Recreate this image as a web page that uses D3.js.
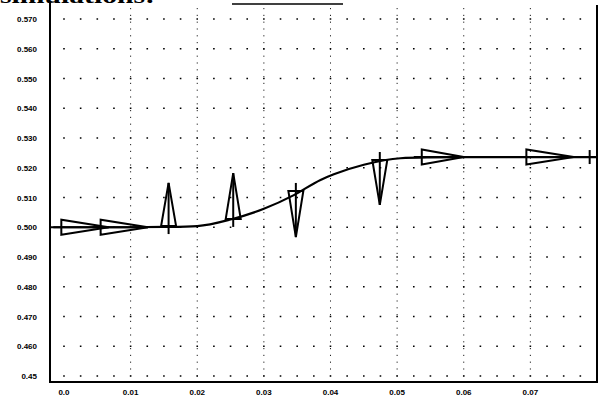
<!DOCTYPE html>
<html><head><meta charset="utf-8">
<script src="https://cdn.jsdelivr.net/npm/d3@7"></script>
<style>
html,body{margin:0;padding:0;background:#fff;}
svg{display:block;}
</style></head>
<body>
<script>
// ---- data ----
const xTicks = [0, 0.01, 0.02, 0.03, 0.04, 0.05, 0.06, 0.07];
const xTickLabels = ["0.0", "0.01", "0.02", "0.03", "0.04", "0.05", "0.06", "0.07"];
const yTicks = [0.57, 0.56, 0.55, 0.54, 0.53, 0.52, 0.51, 0.50, 0.49, 0.48, 0.47, 0.46, 0.45];
const yTickLabels = ["0.570", "0.560", "0.550", "0.540", "0.530", "0.520", "0.510", "0.500", "0.490", "0.480", "0.470", "0.460", "0.45"];

const curveX = [-0.0021, 0.0, 0.005, 0.01, 0.015, 0.02, 0.025, 0.03, 0.0345, 0.0385, 0.0405, 0.045, 0.0505, 0.055, 0.06, 0.07, 0.08];
const curveY = [0.5000, 0.5000, 0.5000, 0.5000, 0.5001, 0.5004, 0.5026, 0.5062, 0.5108, 0.5159, 0.5178, 0.5210, 0.5232, 0.5235, 0.5236, 0.5236, 0.5236];

// arrows: base point and vector (data units)
const arrowX  = [-0.0004, 0.0055, 0.0157, 0.0254, 0.0348, 0.0474, 0.0537, 0.0694];
const arrowY  = [0.5000, 0.5000, 0.5004, 0.5028, 0.5122, 0.5226, 0.5236, 0.5236];
const arrowDX = [0.0071, 0.0071, 0, 0, 0, 0, 0.0063, 0.0071];
const arrowDY = [0, 0, 0.0145, 0.0154, -0.0155, -0.0151, 0, 0];

const endMarkX = 0.0789;
const endMarkY = 0.5236;

const headerText = "simulations:";

// ---- layout ----
const W = 604, H = 396;
const svg = d3.select("body").append("svg").attr("width", W).attr("height", H);

const x = d3.scaleLinear().domain([-0.0021, 0.0800]).range([50, 597]);
const y = d3.scaleLinear().domain([0.45, 0.57]).range([376, 19]);
const yBottom = 382, yTop = 3;

// header remnant (cut off at top of scan)
svg.append("text")
  .attr("x", 0).attr("y", 2.5)
  .attr("font-family", "Liberation Serif").attr("font-weight", "bold")
  .attr("font-size", 22)
  .attr("textLength", 155).attr("lengthAdjust", "spacingAndGlyphs")
  .text(headerText);
svg.append("line").attr("x1", 232).attr("x2", 343).attr("y1", 4).attr("y2", 4)
  .attr("stroke", "#000").attr("stroke-width", 1.5);

// horizontal dotted rows
const dotStep = (x(0.01) - x(0)) / 4;
const firstDot = x(0) - dotStep * Math.floor((x(0) - 58) / dotStep);
svg.append("g").selectAll("line").data(yTicks).join("line")
  .attr("x1", firstDot - 0.8).attr("x2", 594)
  .attr("y1", d => y(d)).attr("y2", d => y(d))
  .attr("stroke", "#000").attr("stroke-width", 1.7)
  .attr("stroke-dasharray", `1.6,${dotStep - 1.6}`);

// vertical dotted lines
svg.append("g").selectAll("line").data(xTicks.slice(1)).join("line")
  .attr("x1", d => x(d)).attr("x2", d => x(d))
  .attr("y1", 8).attr("y2", yBottom - 3)
  .attr("stroke", "#222").attr("stroke-width", 1)
  .attr("stroke-dasharray", "1.2,5.6");

// axes frame
const frame = svg.append("g").attr("stroke", "#000").attr("stroke-width", 2).attr("fill", "none");
frame.append("line").attr("x1", 50).attr("x2", 50).attr("y1", yTop).attr("y2", yBottom);
frame.append("line").attr("x1", 49).attr("x2", 598).attr("y1", yBottom).attr("y2", yBottom);
frame.append("line").attr("x1", 597).attr("x2", 597).attr("y1", 5).attr("y2", yBottom);

// y labels
svg.append("g").selectAll("text").data(yTicks).join("text")
  .attr("x", 37).attr("y", (d) => y(d) + 3)
  .attr("text-anchor", "end")
  .attr("font-family", "Liberation Sans").attr("font-weight", "bold").attr("font-size", 8)
  .text((d, i) => yTickLabels[i]);

// x labels
svg.append("g").selectAll("text").data(xTicks).join("text")
  .attr("x", d => x(d)).attr("y", 395)
  .attr("text-anchor", "middle")
  .attr("font-family", "Liberation Sans").attr("font-weight", "bold").attr("font-size", 8)
  .text((d, i) => xTickLabels[i]);

// curve
const pts = curveX.map((v, i) => [v, curveY[i]]);
svg.append("path").datum(pts)
  .attr("d", d3.line().x(d => x(d[0])).y(d => y(d[1])).curve(d3.curveMonotoneX))
  .attr("fill", "none").attr("stroke", "#000").attr("stroke-width", 2.2);

// arrows
const arrows = arrowX.map((v, i) => ({bx: v, by: arrowY[i], dx: arrowDX[i], dy: arrowDY[i]}));
const ag = svg.append("g").attr("stroke", "#000").attr("fill", "none").attr("stroke-width", 2);
arrows.forEach(a => {
  const bx = x(a.bx), by = y(a.by);
  const tx = x(a.bx + a.dx), ty = y(a.by + a.dy);
  const len = Math.hypot(tx - bx, ty - by);
  const ux = (tx - bx) / len, uy = (ty - by) / len;
  const px = -uy, py = ux;
  const hw = 7.5;
  ag.append("path")
    .attr("d", `M${bx + px * hw},${by + py * hw}L${tx},${ty}L${bx - px * hw},${by - py * hw}Z`)
    .attr("stroke-linejoin", "miter");
  ag.append("line")
    .attr("x1", bx - ux * 8).attr("y1", by - uy * 8)
    .attr("x2", tx).attr("y2", ty);
});

// end marker
svg.append("line")
  .attr("x1", x(endMarkX)).attr("x2", x(endMarkX))
  .attr("y1", y(endMarkY) - 7).attr("y2", y(endMarkY) + 7)
  .attr("stroke", "#000").attr("stroke-width", 2);
</script>
</body></html>
